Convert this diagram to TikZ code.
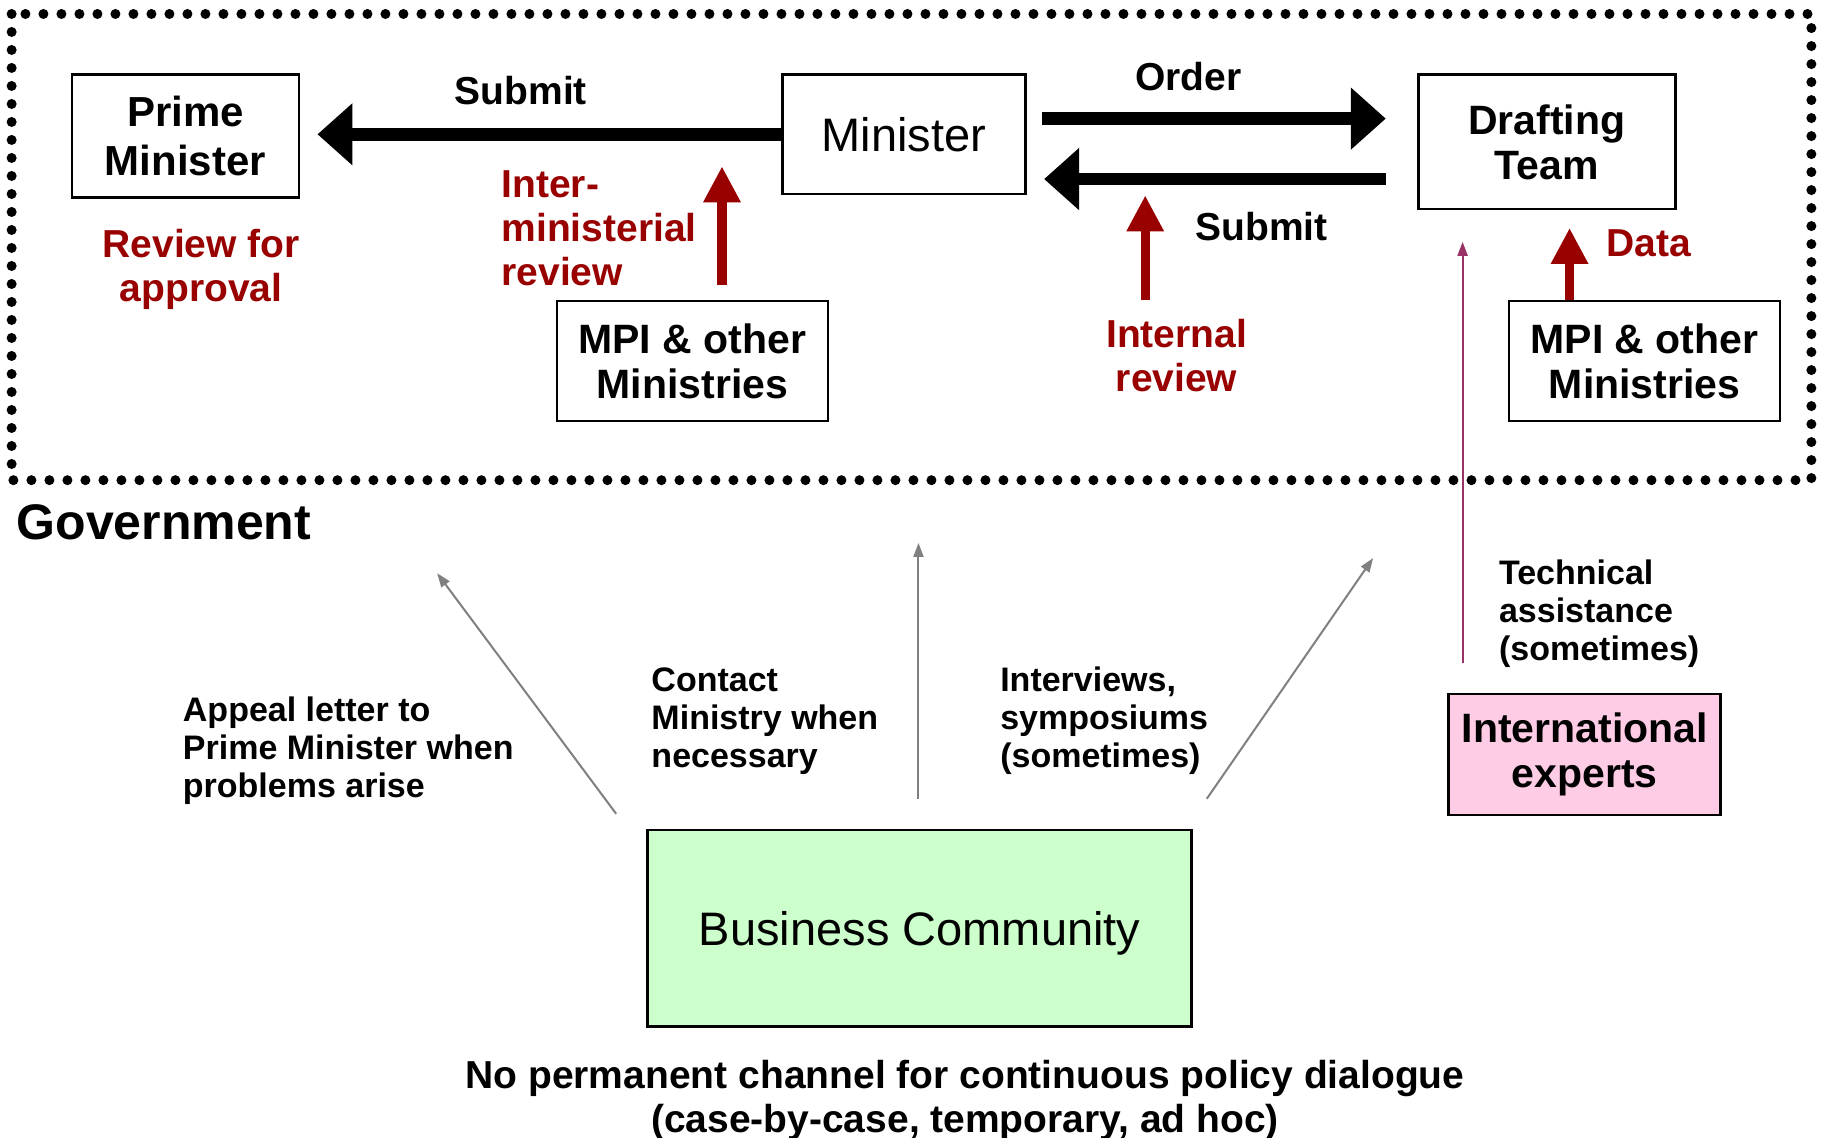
\documentclass[tikz,border=0pt]{standalone}
\usepackage{fontspec}
\setmainfont{Liberation Sans}
\usetikzlibrary{positioning,arrows.meta,calc}
\definecolor{darkred}{HTML}{990000}
\definecolor{bcgreen}{HTML}{CCFFCC}
\definecolor{intlpink}{HTML}{FFCCE6}
\definecolor{linkgray}{HTML}{808080}
\definecolor{tapurple}{HTML}{993366}

\begin{document}
\begin{tikzpicture}[x=0.5813pt,y=-0.5813pt,
  box/.style={draw,line width=1.2pt,inner sep=0pt,align=center,
    font=\bfseries\fontsize{20.5}{22.5}\selectfont},
  lbl/.style={inner sep=0pt,align=center,font=\bfseries\fontsize{19.5}{22}\selectfont},
  redlbl/.style={lbl,text=darkred},
  small/.style={inner sep=0pt,align=left,font=\bfseries\fontsize{17}{19}\selectfont},
  bigarrow/.style={line width=6.4pt,-{Triangle[length=17.5pt,width=30pt]}},
  redarrow/.style={draw=darkred,line width=4.6pt,-{Triangle[length=18pt,width=17.5pt]}},
  grayarrow/.style={draw=linkgray,line width=1pt,-{Triangle[length=7pt,width=5pt]}},
  tarrow/.style={draw=tapurple,line width=1.1pt,-{Triangle[length=7pt,width=5pt]}}]
\path[use as bounding box,fill=white] (0,0) rectangle (1568,978);
\draw[line width=5pt,line cap=round,dash pattern=on 0pt off 9pt] (10,12) rectangle (1558,413);

\node[box,font=\bfseries\fontsize{21}{24.4}\selectfont,minimum width=113.4pt,minimum height=61.6pt] (pm) at (159.5,117) {Prime\\Minister};
\node[box,font=\fontsize{23.5}{28}\selectfont,minimum width=121.5pt,minimum height=59.9pt] (min) at (777.5,115.5) {Minister};
\node[box,minimum width=128.5pt,minimum height=67.4pt] (draft) at (1330.5,122) {Drafting\\Team};
\node[box,minimum width=135.4pt,minimum height=59.9pt] (mpiL) at (595.5,310.5) {MPI \& other\\Ministries};
\node[box,minimum width=135.4pt,minimum height=59.9pt] (mpiR) at (1414.5,310.5) {MPI \& other\\Ministries};
\node[box,fill=intlpink,minimum width=136pt,minimum height=60.5pt] (intl) at (1363,649) {International\\experts};
\node[box,fill=bcgreen,text depth=0pt,font=\fontsize{23.5}{28}\selectfont,minimum width=272pt,minimum height=98.2pt] (bc) at (791,798.5) {Business Community};

\node[lbl] (sub1) at (448,78) {Submit};
\node[lbl] (ord) at (1022,66) {Order};
\node[lbl] (sub2) at (1085,195) {Submit};
\node[redlbl] (data) at (1418,209) {Data};
\node[redlbl] (rev) at (173,231.5) {Review for\\approval};
\node[redlbl,align=left,anchor=west] (imrev) at (431,196) {Inter-\\ministerial\\review};
\node[redlbl] (intrev) at (1012,306) {Internal\\review};
\node[inner sep=0pt,anchor=west,font=\bfseries\fontsize{25}{30}\selectfont] (gov) at (14,449) {Government};

\node[small,anchor=west] (appeal) at (157,646) {Appeal letter to\\Prime Minister when\\problems arise};
\node[small,anchor=west] (contact) at (560,620) {Contact\\Ministry when\\necessary};
\node[small,anchor=west] (interv) at (860,620) {Interviews,\\symposiums\\(sometimes)};
\node[small,anchor=west] (tech) at (1289,528) {Technical\\assistance\\(sometimes)};
\node[lbl] (nochan) at (830,946.5) {No permanent channel for continuous policy dialogue\\(case-by-case, temporary, ad hoc)};

\draw[bigarrow] (min.west) -- ($(pm.east)+(15,-1.5)$);
\draw[bigarrow] ($(min.east)+(13,-13.5)$) -- ($(draft.west)+(-27,-20)$);
\draw[bigarrow] ($(draft.west)+(-27,32)$) -- ($(min.east)+(15,38.5)$);

\coordinate (imS) at (621,245);
\coordinate (imT) at (621,143);
\coordinate (irS) at (985,258);
\coordinate (irT) at (985,168);
\draw[redarrow] (imS) -- (imT);
\draw[redarrow] (irS) -- (irT);
\draw[redarrow] ($(mpiR.north)+(-64.5,0)$) -- ($(draft.south)+(19.5,15)$);

\draw[tarrow] ($(intl.north)+(-105,-26)$) -- ($(draft.south)+(-72.5,27)$);

\coordinate (toPM) at (376,493);
\coordinate (toMin) at (790,467);
\coordinate (toDraft) at (1181,480);
\draw[grayarrow] ($(bc.north)+(-261,-13)$) -- (toPM);
\draw[grayarrow] ($(bc.north)+(-1,-26)$) -- (toMin);
\draw[grayarrow] ($(bc.north)+(247,-26)$) -- (toDraft);
\end{tikzpicture}
\end{document}
